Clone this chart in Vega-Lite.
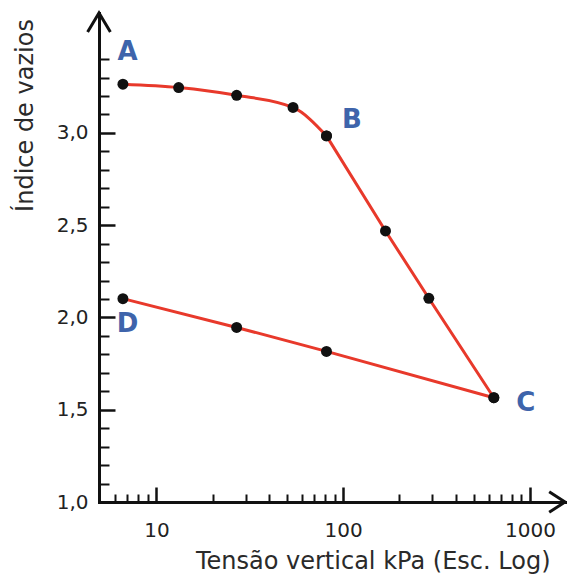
{
  "$schema": "https://vega.github.io/schema/vega-lite/v6.json",
  "width": 466,
  "height": 489,
  "autosize": "none",
  "padding": {"left": 99, "top": 13, "right": 2, "bottom": 74},
  "background": "white",
  "config": {"view": {"stroke": null}, "font": "DejaVu Sans"},
  "datasets": {
    "curve": [
      {"branch": "carga1", "seq": 1, "tensao": 6.62, "indice": 3.264},
      {"branch": "carga1", "seq": 2, "tensao": 13.16, "indice": 3.246},
      {"branch": "carga1", "seq": 3, "tensao": 26.9, "indice": 3.204},
      {"branch": "carga1", "seq": 4, "tensao": 53.9, "indice": 3.138},
      {"branch": "carga1", "seq": 5, "tensao": 81.4, "indice": 2.984},
      {"branch": "carga2", "seq": 6, "tensao": 81.4, "indice": 2.984},
      {"branch": "carga2", "seq": 7, "tensao": 168.5, "indice": 2.469},
      {"branch": "carga2", "seq": 8, "tensao": 287.4, "indice": 2.104},
      {"branch": "carga2", "seq": 9, "tensao": 640.6, "indice": 1.565},
      {"branch": "descarga", "seq": 10, "tensao": 640.6, "indice": 1.565},
      {"branch": "descarga", "seq": 11, "tensao": 81.4, "indice": 1.816},
      {"branch": "descarga", "seq": 12, "tensao": 26.9, "indice": 1.946},
      {"branch": "descarga", "seq": 13, "tensao": 6.62, "indice": 2.102}
    ],
    "labels": [
      {"label": "A", "tensao": 7.02, "indice": 3.438},
      {"label": "B", "tensao": 111.2, "indice": 3.069},
      {"label": "C", "tensao": 950.7, "indice": 1.534},
      {"label": "D", "tensao": 7.02, "indice": 1.963}
    ],
    "arrows": [
      {"dir": "up", "tensao": 4.93, "indice": 3.65},
      {"dir": "right", "tensao": 1540, "indice": 1.0}
    ]
  },
  "resolve": {"axis": {"x": "independent", "y": "independent"}},
  "layer": [
    {
      "data": {"name": "curve"},
      "transform": [{"filter": "datum.branch === 'carga1'"}],
      "mark": {"type": "line", "color": "#e8392b", "strokeWidth": 3, "interpolate": "monotone"},
      "encoding": {
        "x": {
          "field": "tensao", "type": "quantitative",
          "scale": {"type": "log", "domain": [4.93, 1540], "nice": false},
          "axis": {
            "orient": "bottom", "title": null, "labels": false, "grid": false,
            "values": [6, 7, 8, 9, 20, 30, 40, 50, 60, 70, 80, 90, 200, 300, 400, 500, 600, 700, 800, 900],
            "tickSize": -8, "tickWidth": 2, "tickColor": "#111",
            "domain": true, "domainColor": "#111", "domainWidth": 3, "domainCap": "square"
          }
        },
        "y": {
          "field": "indice", "type": "quantitative",
          "scale": {"domain": [1.0, 3.65], "nice": false, "zero": false},
          "axis": {
            "orient": "left", "title": null, "labels": false, "grid": false,
            "values": [1.1, 1.2, 1.3, 1.4, 1.6, 1.7, 1.8, 1.9, 2.1, 2.2, 2.3, 2.4, 2.6, 2.7, 2.8, 2.9, 3.1, 3.2, 3.3, 3.4],
            "tickSize": -10, "tickWidth": 2, "tickColor": "#111",
            "domain": true, "domainColor": "#111", "domainWidth": 3, "domainCap": "square"
          }
        },
        "order": {"field": "seq", "type": "quantitative"}
      }
    },
    {
      "data": {"name": "curve"},
      "transform": [{"filter": "datum.branch !== 'carga1'"}],
      "mark": {"type": "line", "color": "#e8392b", "strokeWidth": 3},
      "encoding": {
        "x": {
          "field": "tensao", "type": "quantitative",
          "axis": {
            "orient": "bottom", "grid": false, "domain": false,
            "values": [10, 100, 1000], "format": "d",
            "tickSize": -15, "tickWidth": 2.5, "tickColor": "#111",
            "labelPadding": 33, "labelFontSize": 20, "labelColor": "#222", "labelFont": "DejaVu Sans",
            "title": "Tensão vertical kPa (Esc. Log)", "titleFontSize": 24, "titleFontWeight": "normal",
            "titleColor": "#2a2a2a", "titleFont": "DejaVu Sans",
            "titleX": 451, "titleY": 66, "titleAlign": "right", "titleBaseline": "alphabetic", "titleAnchor": null
          }
        },
        "y": {
          "field": "indice", "type": "quantitative",
          "axis": {
            "orient": "left", "grid": false, "domain": false,
            "values": [1.0, 1.5, 2.0, 2.5, 3.0],
            "labelExpr": "replace(format(datum.value, '.1f'), '.', ',')",
            "tickSize": -16, "tickWidth": 2.5, "tickColor": "#111",
            "labelPadding": 27, "labelFontSize": 20, "labelColor": "#222", "labelFont": "DejaVu Sans",
            "title": "Índice de vazios", "titleFontSize": 24, "titleFontWeight": "normal",
            "titleColor": "#2a2a2a", "titleFont": "DejaVu Sans",
            "titleX": -67, "titleY": 102, "titleAngle": -90, "titleAlign": "center", "titleBaseline": "alphabetic"
          }
        },
        "detail": {"field": "branch", "type": "nominal"},
        "order": {"field": "seq", "type": "quantitative"}
      }
    },
    {
      "data": {"name": "curve"},
      "mark": {"type": "point", "filled": true, "color": "#111", "size": 120, "opacity": 1},
      "encoding": {
        "x": {"field": "tensao", "type": "quantitative", "axis": null},
        "y": {"field": "indice", "type": "quantitative", "axis": null}
      }
    },
    {
      "data": {"name": "labels"},
      "mark": {"type": "text", "font": "DejaVu Sans", "fontWeight": "bold", "fontSize": 26, "color": "#3e64ab", "align": "center", "baseline": "middle"},
      "encoding": {
        "x": {"field": "tensao", "type": "quantitative", "axis": null},
        "y": {"field": "indice", "type": "quantitative", "axis": null},
        "text": {"field": "label", "type": "nominal"}
      }
    },
    {
      "data": {"name": "arrows"},
      "transform": [{"filter": "datum.dir === 'up'"}],
      "mark": {"type": "point", "shape": "M-0.6,1L0,0L0.6,1", "size": 1444, "filled": false, "stroke": "#111", "strokeWidth": 3, "opacity": 1, "clip": false},
      "encoding": {
        "x": {"field": "tensao", "type": "quantitative", "axis": null},
        "y": {"field": "indice", "type": "quantitative", "axis": null}
      }
    },
    {
      "data": {"name": "arrows"},
      "transform": [{"filter": "datum.dir === 'right'"}],
      "mark": {"type": "point", "shape": "M-1,-0.65L0,0L-1,0.65", "size": 1000, "filled": false, "stroke": "#111", "strokeWidth": 3, "opacity": 1, "clip": false},
      "encoding": {
        "x": {"field": "tensao", "type": "quantitative", "axis": null},
        "y": {"field": "indice", "type": "quantitative", "axis": null}
      }
    }
  ]
}
